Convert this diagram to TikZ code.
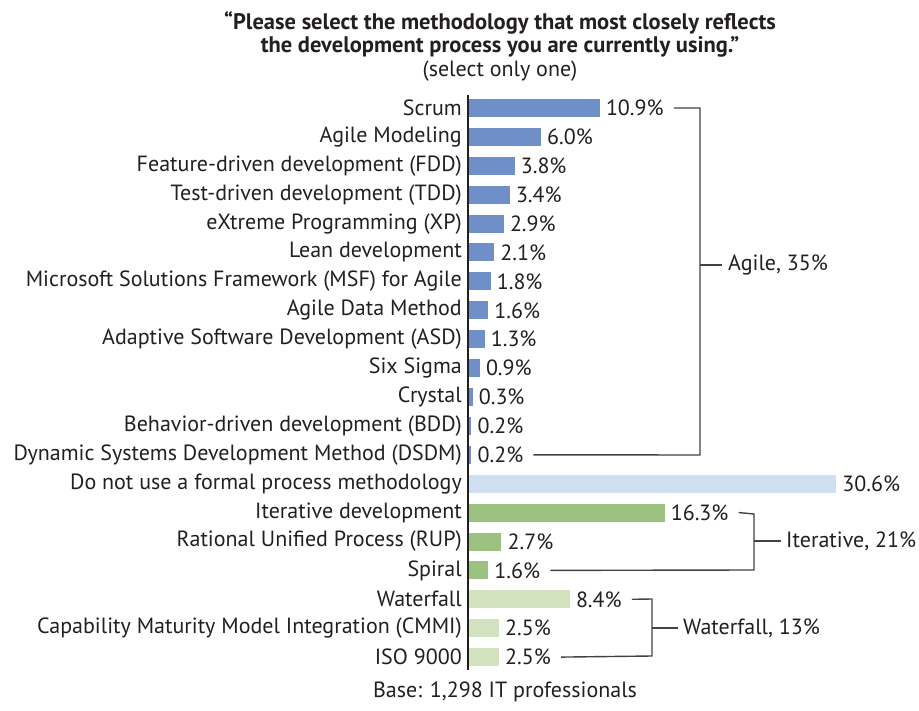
\documentclass[tikz,border=0pt]{standalone}
\usepackage{fontspec}
\setmainfont{PT Sans}
\definecolor{ink}{HTML}{231F20}
\definecolor{agile}{HTML}{6F8FC9}
\definecolor{none}{HTML}{CFE0F3}
\definecolor{iter}{HTML}{9BC27E}
\definecolor{water}{HTML}{D3E3C0}

\tikzstyle{cat} = [anchor=east, inner sep=0pt, text=ink]
\tikzstyle{pct} = [anchor=west, inner sep=0pt, text=ink]
\tikzstyle{grp} = [anchor=west, inner sep=0pt, text=ink]
\tikzstyle{brace} = [draw=ink!85, line width=1.4pt]

\begin{document}
\begin{tikzpicture}[x=1pt, y=-1pt, font=\fontsize{22}{24}\selectfont]
        \useasboundingbox (0,0) rectangle (919,711);
        % title
        \node[text=ink, font=\fontsize{22.5}{23}\selectfont\bfseries, align=center] (title) at (500,34)
            {“Please select the methodology that most closely reflects\\the development process you are currently using.”};
        \node[text=ink] (hint) at (500,71) {(select only one)};
        % bars
        \foreach \v/\t/\c [count=\i] in {
            10.9/Scrum/agile, 6.0/Agile Modeling/agile,
            3.8/Feature-driven development (FDD)/agile,
            3.4/Test-driven development (TDD)/agile,
            2.9/eXtreme Programming (XP)/agile, 2.1/Lean development/agile,
            1.8/Microsoft Solutions Framework (MSF) for Agile/agile,
            1.6/Agile Data Method/agile,
            1.3/Adaptive Software Development (ASD)/agile,
            0.9/Six Sigma/agile, 0.3/Crystal/agile,
            0.2/Behavior-driven development (BDD)/agile,
            0.2/Dynamic Systems Development Method (DSDM)/agile,
            30.6/Do not use a formal process methodology/none,
            16.3/Iterative development/iter,
            2.7/Rational Unified Process (RUP)/iter, 1.6/Spiral/iter,
            8.4/Waterfall/water,
            2.5/Capability Maturity Model Integration (CMMI)/water,
            2.5/ISO 9000/water} {
            \node[cat] (lbl\i) at (462,{108+28.9*(\i-1)}) {\t};
            \fill[\c] (469,{99+28.9*(\i-1)}) rectangle ++({12*\v},18);
            \node[pct] (val\i) at ({469+12*\v+6},{108+28.9*(\i-1)}) {\v\%};
        }
        \draw[ink, line width=1.4pt] (468,95) -- (468,670);
        % groups
        \coordinate (agtop) at (700,108);
        \coordinate (agbot) at (700,455);
        \coordinate (agmid) at (700,265);
        \node[grp] (agile) at (728,265) {Agile, 35\%};
        \draw[brace] ([xshift=10pt]val1.east) -- (agtop) -- (agbot) -- ([xshift=10pt]val13.east);
        \draw[brace] (agmid) -- ([xshift=-6pt]agile.west);
        \coordinate (ittop) at (754,514);
        \coordinate (itbot) at (754,570);
        \coordinate (itmid) at (754,541);
        \node[grp] (iterative) at (786,541) {Iterative, 21\%};
        \draw[brace] ([xshift=10pt]val15.east) -- (ittop) -- (itbot) -- ([xshift=10pt]val17.east);
        \draw[brace] (itmid) -- ([xshift=-5pt]iterative.west);
        \coordinate (wftop) at (652,599);
        \coordinate (wfbot) at (652,656);
        \coordinate (wfmid) at (652,628);
        \node[grp] (waterfall) at (683,628) {Waterfall, 13\%};
        \draw[brace] ([xshift=10pt]val18.east) -- (wftop) -- (wfbot) -- ([xshift=10pt]val20.east);
        \draw[brace] (wfmid) -- ([xshift=-5pt]waterfall.west);
        % base
        \node[text=ink] (base) at (505,692) {Base: 1,298 IT professionals};
\end{tikzpicture}
\end{document}
